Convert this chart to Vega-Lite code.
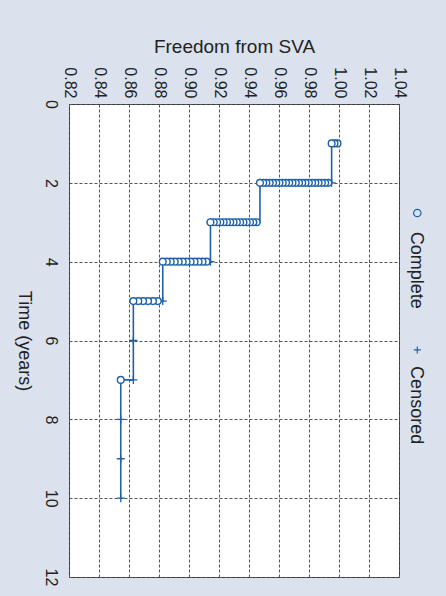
{
  "$schema": "https://vega.github.io/schema/vega-lite/v6.json",
  "autosize": {"type": "none"},
  "width": 330,
  "height": 473,
  "padding": {"left": 69, "top": 104, "right": 47, "bottom": 19},
  "background": "#dbe2ee",
  "config": {
    "view": {"stroke": "#333333", "strokeWidth": 1, "fill": "white"},
    "font": "Liberation Sans",
    "axis": {
      "grid": true,
      "gridColor": "#555555",
      "gridDash": [3, 2],
      "gridWidth": 1,
      "gridOpacity": 1,
      "ticks": false,
      "domain": false,
      "labelOverlap": false,
      "labelFont": "Liberation Sans",
      "labelFontSize": 16,
      "labelColor": "#222222",
      "titleColor": "#222222",
      "titleFontWeight": "normal"
    }
  },
  "datasets": {
    "km": [
      {"i": 0, "t": 1, "S": 0.9993},
      {"i": 1, "t": 1, "S": 0.9951},
      {"i": 2, "t": 2, "S": 0.9473},
      {"i": 3, "t": 3, "S": 0.9143},
      {"i": 4, "t": 4, "S": 0.8825},
      {"i": 5, "t": 5, "S": 0.8629},
      {"i": 6, "t": 7, "S": 0.8545},
      {"i": 7, "t": 10, "S": 0.8545}
    ],
    "complete": [
      {"t": 1, "S": 0.9990}, {"t": 1, "S": 0.9970}, {"t": 1, "S": 0.9951},
      {"t": 2, "S": 0.9929}, {"t": 2, "S": 0.9908}, {"t": 2, "S": 0.9886}, {"t": 2, "S": 0.9864},
      {"t": 2, "S": 0.9842}, {"t": 2, "S": 0.9821}, {"t": 2, "S": 0.9799}, {"t": 2, "S": 0.9777},
      {"t": 2, "S": 0.9755}, {"t": 2, "S": 0.9734}, {"t": 2, "S": 0.9712}, {"t": 2, "S": 0.9690},
      {"t": 2, "S": 0.9668}, {"t": 2, "S": 0.9647}, {"t": 2, "S": 0.9625}, {"t": 2, "S": 0.9603},
      {"t": 2, "S": 0.9582}, {"t": 2, "S": 0.9560}, {"t": 2, "S": 0.9538}, {"t": 2, "S": 0.9516},
      {"t": 2, "S": 0.9495}, {"t": 2, "S": 0.9473},
      {"t": 3, "S": 0.9451}, {"t": 3, "S": 0.9429}, {"t": 3, "S": 0.9407}, {"t": 3, "S": 0.9385},
      {"t": 3, "S": 0.9363}, {"t": 3, "S": 0.9341}, {"t": 3, "S": 0.9319}, {"t": 3, "S": 0.9297},
      {"t": 3, "S": 0.9275}, {"t": 3, "S": 0.9253}, {"t": 3, "S": 0.9231}, {"t": 3, "S": 0.9209},
      {"t": 3, "S": 0.9187}, {"t": 3, "S": 0.9165}, {"t": 3, "S": 0.9143},
      {"t": 4, "S": 0.9117}, {"t": 4, "S": 0.9090}, {"t": 4, "S": 0.9064}, {"t": 4, "S": 0.9037},
      {"t": 4, "S": 0.9011}, {"t": 4, "S": 0.8984}, {"t": 4, "S": 0.8958}, {"t": 4, "S": 0.8931},
      {"t": 4, "S": 0.8905}, {"t": 4, "S": 0.8878}, {"t": 4, "S": 0.8852}, {"t": 4, "S": 0.8825},
      {"t": 5, "S": 0.8792}, {"t": 5, "S": 0.8760}, {"t": 5, "S": 0.8727}, {"t": 5, "S": 0.8694},
      {"t": 5, "S": 0.8662}, {"t": 5, "S": 0.8629},
      {"t": 7, "S": 0.8545}
    ],
    "censored": [
      {"t": 2, "S": 0.9951},
      {"t": 2, "S": 0.9473},
      {"t": 3, "S": 0.9143},
      {"t": 4, "S": 0.9143},
      {"t": 5, "S": 0.8825},
      {"t": 6, "S": 0.8629},
      {"t": 7, "S": 0.8629},
      {"t": 8, "S": 0.8545},
      {"t": 9, "S": 0.8545},
      {"t": 10, "S": 0.8545}
    ]
  },
  "layer": [
    {
      "data": {"name": "km"},
      "mark": {"type": "line", "interpolate": "step-before", "color": "#1f62aa", "strokeWidth": 1.6},
      "encoding": {
        "x": {
          "field": "S", "type": "quantitative",
          "scale": {"domain": [0.82, 1.04], "nice": false, "zero": false},
          "axis": {
            "orient": "top",
            "values": [0.82, 0.84, 0.86, 0.88, 0.9, 0.92, 0.94, 0.96, 0.98, 1.0, 1.02, 1.04],
            "tickCount": 30,
            "format": ".2f",
            "labelOverlap": false,
            "labelAngle": 90,
            "labelAlign": "right",
            "labelBaseline": "middle",
            "labelPadding": 6,
            "title": "Freedom from SVA",
            "titleFont": "Liberation Sans",
            "titleFontSize": 19,
            "titlePadding": 10
          }
        },
        "y": {
          "field": "t", "type": "quantitative",
          "scale": {"domain": [0, 12], "nice": false, "zero": false, "reverse": true},
          "axis": {
            "orient": "left",
            "values": [0, 2, 4, 6, 8, 10, 12],
            "format": "d",
            "labelOverlap": false,
            "labelAngle": 90,
            "labelAlign": "center",
            "labelBaseline": "middle",
            "labelPadding": 19,
            "title": "Time (years)",
            "titleFontSize": 18,
            "titleAngle": 90,
            "titleBaseline": "top",
            "titlePadding": 10
          }
        },
        "order": {"field": "i", "type": "quantitative"}
      }
    },
    {
      "data": {"name": "censored"},
      "mark": {"type": "point", "shape": "M-1,0H1M0,-1V1", "size": 64, "filled": false, "stroke": "#1f62aa", "strokeWidth": 1.3, "opacity": 1},
      "encoding": {
        "x": {"field": "S", "type": "quantitative", "scale": {"domain": [0.82, 1.04], "nice": false, "zero": false}},
        "y": {"field": "t", "type": "quantitative", "scale": {"domain": [0, 12], "nice": false, "zero": false, "reverse": true}}
      }
    },
    {
      "data": {"name": "complete"},
      "mark": {"type": "point", "shape": "circle", "size": 45, "filled": true, "fill": "white", "stroke": "#1f62aa", "strokeWidth": 1.4, "opacity": 1, "fillOpacity": 1},
      "encoding": {
        "x": {"field": "S", "type": "quantitative", "scale": {"domain": [0.82, 1.04], "nice": false, "zero": false}},
        "y": {"field": "t", "type": "quantitative", "scale": {"domain": [0, 12], "nice": false, "zero": false, "reverse": true}}
      }
    },
    {
      "data": {"values": [{}]},
      "mark": {"type": "point", "shape": "circle", "size": 55, "filled": false, "stroke": "#1f62aa", "strokeWidth": 1.2, "opacity": 1},
      "encoding": {
        "x": {"datum": 1.0522, "type": "quantitative", "scale": {"domain": [0.82, 1.04], "nice": false, "zero": false}},
        "y": {"datum": 2.765, "type": "quantitative", "scale": {"domain": [0, 12], "nice": false, "zero": false, "reverse": true}}
      }
    },
    {
      "data": {"values": [{}]},
      "mark": {"type": "point", "shape": "M-1,0H1M0,-1V1", "size": 50, "filled": false, "stroke": "#1f62aa", "strokeWidth": 1.2, "opacity": 1},
      "encoding": {
        "x": {"datum": 1.0522, "type": "quantitative", "scale": {"domain": [0.82, 1.04], "nice": false, "zero": false}},
        "y": {"datum": 6.24, "type": "quantitative", "scale": {"domain": [0, 12], "nice": false, "zero": false, "reverse": true}}
      }
    },
    {
      "data": {"values": [{"label": "Complete", "pos": 3.24}, {"label": "Censored", "pos": 6.65}]},
      "mark": {"type": "text", "angle": 90, "align": "left", "baseline": "middle", "fontSize": 18, "font": "Liberation Sans", "color": "#222222"},
      "encoding": {
        "x": {"datum": 1.0513, "type": "quantitative", "scale": {"domain": [0.82, 1.04], "nice": false, "zero": false}},
        "y": {"field": "pos", "type": "quantitative", "scale": {"domain": [0, 12], "nice": false, "zero": false, "reverse": true}},
        "text": {"field": "label"}
      }
    }
  ]
}
